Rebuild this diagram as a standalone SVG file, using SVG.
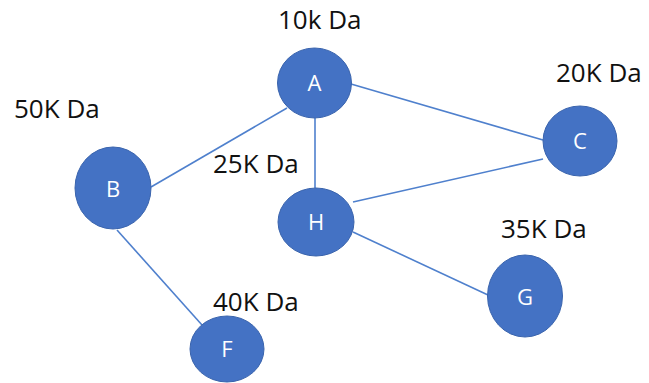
<svg xmlns="http://www.w3.org/2000/svg" width="649" height="383" viewBox="0 0 649 383">
  <style>
    .edge { stroke: #4F80CD; stroke-width: 1.6; fill: none; }
    .node { fill: #4472C4; stroke: #3A64AD; stroke-width: 1; }
    .letter { font-family: "Open Sans", "Noto Sans", sans-serif; font-size: 22px; fill: #FFFFFF; text-anchor: middle; }
    .mass { font-family: "Open Sans", "Noto Sans", sans-serif; font-size: 26px; fill: #111111; }
  </style>
  <rect width="649" height="383" fill="#FFFFFF"/>

  <!-- connectors -->
  <g id="edges">
    <line class="edge" x1="351" y1="84" x2="543" y2="140"/>
    <line class="edge" x1="287" y1="108" x2="151" y2="187"/>
    <line class="edge" x1="315" y1="118" x2="315" y2="188"/>
    <line class="edge" x1="353" y1="202" x2="543" y2="159"/>
    <line class="edge" x1="353" y1="232" x2="488" y2="295"/>
    <line class="edge" x1="117" y1="230" x2="202" y2="325"/>
  </g>

  <!-- nodes -->
  <g id="node-A">
    <ellipse class="node" cx="314.5" cy="83" rx="37" ry="35"/>
    <text class="letter" x="314.5" y="91">A</text>
    <text class="mass" x="278" y="29">10k Da</text>
  </g>
  <g id="node-C">
    <ellipse class="node" cx="580" cy="141" rx="37" ry="35"/>
    <text class="letter" x="580" y="149">C</text>
    <text class="mass" x="556" y="82">20K Da</text>
  </g>
  <g id="node-B">
    <ellipse class="node" cx="113" cy="188" rx="38" ry="41"/>
    <text class="letter" x="113" y="197">B</text>
    <text class="mass" x="14" y="118">50K Da</text>
  </g>
  <g id="node-H">
    <ellipse class="node" cx="316" cy="222" rx="38" ry="34"/>
    <text class="letter" x="316" y="230">H</text>
    <text class="mass" x="213" y="173">25K Da</text>
  </g>
  <g id="node-G">
    <ellipse class="node" cx="525" cy="296" rx="37.5" ry="41"/>
    <text class="letter" x="525" y="305">G</text>
    <text class="mass" x="501" y="238">35K Da</text>
  </g>
  <g id="node-F">
    <ellipse class="node" cx="227" cy="349" rx="37" ry="33"/>
    <text class="letter" x="227" y="357">F</text>
    <text class="mass" x="213" y="311">40K Da</text>
  </g>
</svg>
